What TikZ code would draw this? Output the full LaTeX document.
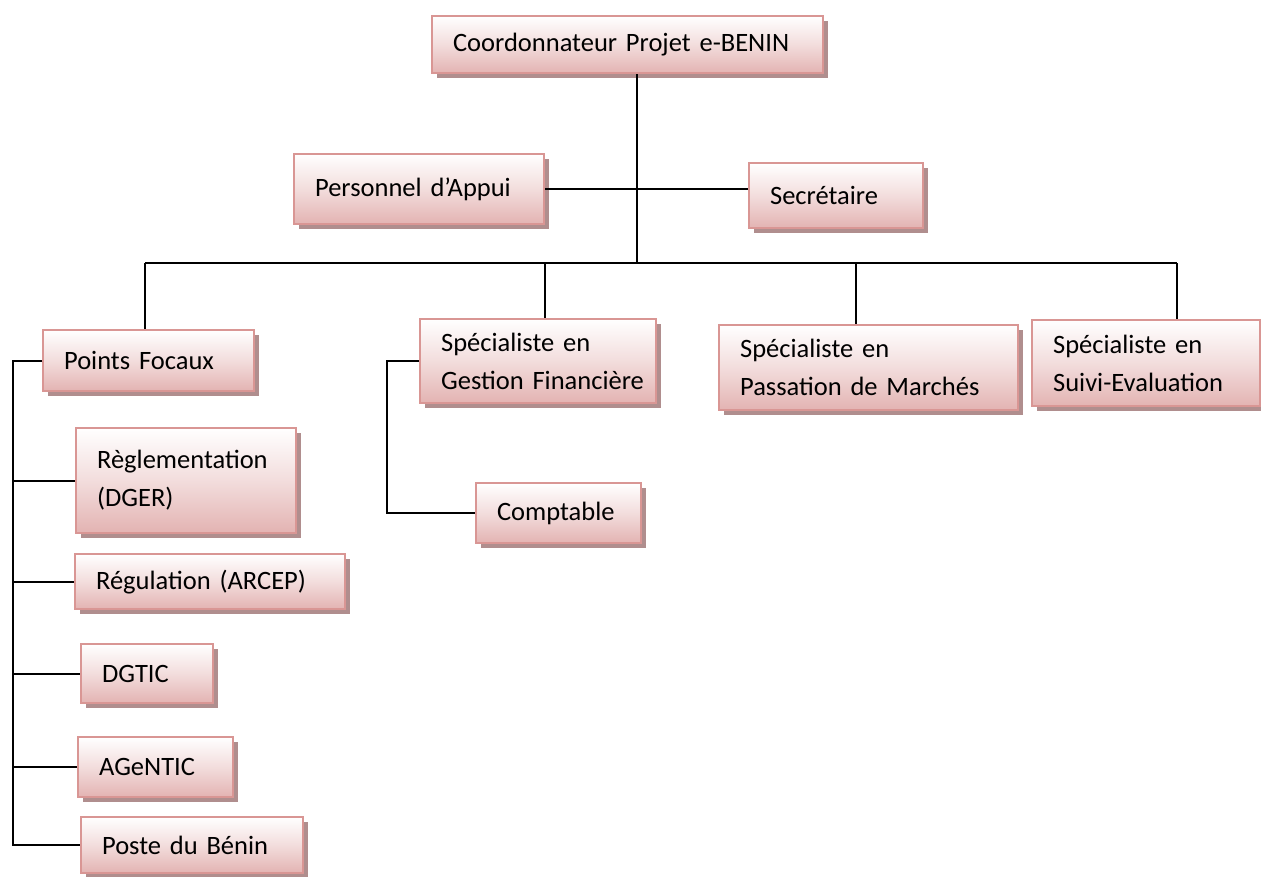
\documentclass[tikz,border=0pt]{standalone}
\usepackage{fontspec}
\setmainfont{Carlito}
\usepackage{tikz}
\usetikzlibrary{shadows}

\definecolor{boxborder}{HTML}{D99694}
\definecolor{boxfill}{HTML}{E3B3B2}
\definecolor{boxshadow}{HTML}{B08E8E}

\tikzset{
  orgbox/.style={rectangle, anchor=north west, draw=boxborder, line width=2.2pt,
    top color=white, bottom color=boxfill, middle color=boxfill!45,
    drop shadow={shadow xshift=4.5pt, shadow yshift=-4.5pt, fill=boxshadow, opacity=1},
    inner xsep=21pt, inner ysep=0pt, align=left,
    font=\fontsize{26.5}{38}\selectfont},
  link/.style={line width=2.2pt, black}
}

\begin{document}
\begin{tikzpicture}[x=1pt,y=-1pt]
  \useasboundingbox (0,0) rectangle (1261,876);

  \node[orgbox, text width=349pt, minimum height=57pt] (coord) at (431,15) {Coordonnateur Projet e-BENIN};
  \node[orgbox, text width=208pt, minimum height=70pt] (appui) at (293,153) {Personnel d’Appui};
  \node[orgbox, text width=132pt, minimum height=65pt] (secr) at (748,162) {Secrétaire};

  \node[orgbox, text width=169pt, minimum height=61pt] (focaux) at (42,329) {Points Focaux};
  \node[orgbox, text width=194pt, minimum height=84pt] (gestfin) at (419,318) {Spécialiste en\\\mbox{Gestion Financière}};
  \node[orgbox, text width=257pt, minimum height=85pt] (passation) at (718,324) {Spécialiste en\\Passation de Marchés};
  \node[orgbox, text width=186pt, minimum height=86pt] (suivi) at (1031,319) {Spécialiste en\\Suivi-Evaluation};

  \node[orgbox, text width=123pt, minimum height=60pt] (compt) at (475,482) {Comptable};

  \node[orgbox, text width=178pt, minimum height=105pt] (dger) at (75,427) {Règlementation\\(DGER)};
  \node[orgbox, text width=228pt, minimum height=55pt] (arcep) at (74,553) {Régulation (ARCEP)};
  \node[orgbox, text width=90pt, minimum height=59pt] (dgtic) at (80,643) {DGTIC};
  \node[orgbox, text width=113pt, minimum height=60pt] (agentic) at (77,736) {AGeNTIC};
  \node[orgbox, text width=180pt, minimum height=56pt] (poste) at (80,816) {Poste du Bénin};

  % bus points
  \coordinate (hub) at (637,263);
  \coordinate (bfoc) at (145,263);
  \coordinate (bgf) at (545,263);
  \coordinate (bpass) at (856,263);
  \coordinate (bsuivi) at (1177,263);
  \coordinate (rail) at (13,0);
  \coordinate (crail) at (387,0);

  \draw[link] (coord.south -| hub) -- (hub);
  \draw[link] (appui.east) -- (appui.east -| secr.west);
  \draw[link] (bfoc) -- (bsuivi);
  \draw[link] (bfoc) -- (bfoc |- focaux.north);
  \draw[link] (bgf) -- (bgf |- gestfin.north);
  \draw[link] (bpass) -- (bpass |- passation.north);
  \draw[link] (bsuivi) -- (bsuivi |- suivi.north);

  \draw[link] (gestfin.west) -| (crail |- compt.west) -- (compt.west);

  \draw[link] (focaux.west) -| (rail |- poste.west) -- (poste.west);
  \foreach \b in {dger, arcep, dgtic, agentic}
    \draw[link] (rail |- \b.west) -- (\b.west);
\end{tikzpicture}
\end{document}
